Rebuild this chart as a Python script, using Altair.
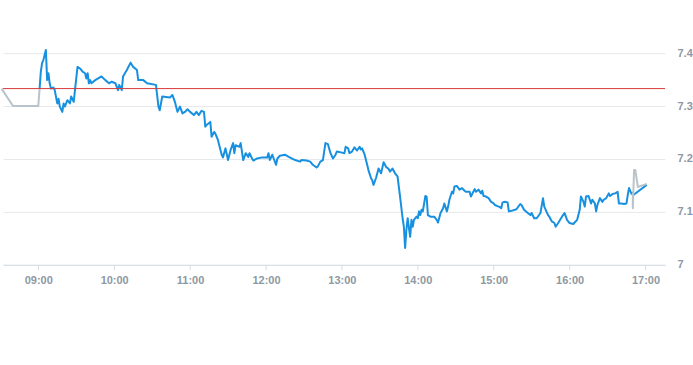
import altair as alt
import pandas as pd

# ---- data ----
prev_close = 7.333

pre_times = ["08:31", "08:40", "09:00", "09:00", "09:01"]
pre_values = [7.333, 7.300, 7.300, 7.300, 7.332]

post_times = ["16:50", "16:50", "16:51", "16:52", "16:54", "17:01"]
post_values = [7.136, 7.107, 7.179, 7.179, 7.147, 7.153]

blue_times = [
    "09:01", "09:02", "09:03", "09:04", "09:06", "09:07", "09:08", "09:09", "09:10", "09:12",
    "09:13", "09:15", "09:16", "09:17", "09:19", "09:20", "09:21", "09:23", "09:25", "09:26",
    "09:28", "09:29", "09:31", "09:33", "09:35", "09:37", "09:38", "09:39", "09:40", "09:41",
    "09:42", "09:45", "09:50", "09:53", "09:56", "09:58", "10:01", "10:03", "10:04", "10:06",
    "10:07", "10:10", "10:13", "10:15", "10:18", "10:19", "10:23", "10:26", "10:33", "10:35",
    "10:36", "10:38", "10:44", "10:46", "10:48", "10:50", "10:52", "10:54", "10:56", "10:58",
    "11:00", "11:03", "11:05", "11:07", "11:09", "11:11", "11:12", "11:13", "11:16", "11:17",
    "11:19", "11:20", "11:22", "11:25", "11:26", "11:28", "11:30", "11:32", "11:34", "11:35",
    "11:36", "11:39", "11:40", "11:42", "11:44", "11:46", "11:47", "11:49", "11:50", "11:53",
    "11:57", "12:01", "12:02", "12:03", "12:05", "12:08", "12:09", "12:11", "12:15", "12:18",
    "12:23", "12:27", "12:28", "12:32", "12:35", "12:37", "12:40", "12:41", "12:43", "12:45",
    "12:47", "12:49", "12:51", "12:53", "12:55", "12:56", "13:00", "13:02", "13:03", "13:05",
    "13:06", "13:08", "13:10", "13:12", "13:14", "13:15", "13:16", "13:18", "13:20", "13:21",
    "13:23", "13:24", "13:25", "13:27", "13:28", "13:29", "13:31", "13:33", "13:35", "13:37",
    "13:38", "13:40", "13:42", "13:44", "13:46", "13:48", "13:49", "13:50", "13:51", "13:52",
    "13:54", "13:55", "13:56", "13:57", "13:59", "14:00", "14:01", "14:02", "14:03", "14:04",
    "14:06", "14:07", "14:08", "14:10", "14:13", "14:15", "14:16", "14:18", "14:20", "14:21",
    "14:23", "14:24", "14:25", "14:27", "14:28", "14:29", "14:31", "14:33", "14:35", "14:37",
    "14:38", "14:41", "14:42", "14:45", "14:46", "14:48", "14:50", "14:51", "14:52", "14:54",
    "14:56", "14:58", "15:00", "15:01", "15:03", "15:05", "15:06", "15:07", "15:09", "15:11",
    "15:12", "15:14", "15:18", "15:21", "15:22", "15:24", "15:27", "15:29", "15:30", "15:32",
    "15:34", "15:37", "15:39", "15:40", "15:43", "15:44", "15:46", "15:48", "15:49", "15:51",
    "15:54", "15:56", "15:58", "16:00", "16:03", "16:04", "16:06", "16:08", "16:09", "16:11",
    "16:12", "16:13", "16:15", "16:17", "16:18", "16:20", "16:21", "16:22", "16:24", "16:26",
    "16:27", "16:29", "16:31", "16:32", "16:34", "16:36", "16:38", "16:39", "16:41", "16:43",
    "16:45", "16:46", "16:47", "16:49", "16:50", "16:51", "17:01",
]
blue_values = [
    7.332, 7.365, 7.381, 7.387, 7.406, 7.349, 7.362, 7.343, 7.333, 7.335,
    7.330, 7.305, 7.314, 7.299, 7.289, 7.305, 7.299, 7.311, 7.305, 7.318,
    7.308, 7.330, 7.374, 7.371, 7.365, 7.362, 7.352, 7.362, 7.343, 7.349,
    7.343, 7.349, 7.356, 7.349, 7.343, 7.346, 7.343, 7.330, 7.340, 7.330,
    7.356, 7.368, 7.382, 7.374, 7.368, 7.349, 7.349, 7.343, 7.340, 7.299,
    7.292, 7.318, 7.316, 7.321, 7.308, 7.289, 7.299, 7.286, 7.289, 7.294,
    7.289, 7.283, 7.289, 7.283, 7.291, 7.289, 7.261, 7.264, 7.270, 7.242,
    7.251, 7.248, 7.236, 7.208, 7.203, 7.220, 7.198, 7.217, 7.230, 7.211,
    7.226, 7.223, 7.230, 7.198, 7.211, 7.204, 7.211, 7.201, 7.197, 7.201,
    7.203, 7.203, 7.211, 7.198, 7.208, 7.189, 7.201, 7.206, 7.208, 7.204,
    7.198, 7.195, 7.198, 7.197, 7.195, 7.189, 7.184, 7.186, 7.195, 7.198,
    7.230, 7.228, 7.211, 7.201, 7.208, 7.214, 7.212, 7.211, 7.223, 7.220,
    7.211, 7.214, 7.222, 7.216, 7.223, 7.218, 7.220, 7.208, 7.189, 7.179,
    7.164, 7.160, 7.151, 7.164, 7.173, 7.182, 7.173, 7.194, 7.185, 7.181,
    7.176, 7.182, 7.173, 7.167, 7.129, 7.088, 7.072, 7.032, 7.066, 7.088,
    7.053, 7.085, 7.072, 7.085, 7.091, 7.088, 7.101, 7.094, 7.104, 7.101,
    7.130, 7.129, 7.094, 7.091, 7.091, 7.085, 7.080, 7.098, 7.107, 7.116,
    7.101, 7.110, 7.123, 7.138, 7.135, 7.148, 7.149, 7.142, 7.145, 7.140,
    7.138, 7.138, 7.129, 7.143, 7.138, 7.142, 7.135, 7.140, 7.130, 7.129,
    7.126, 7.119, 7.116, 7.113, 7.111, 7.109, 7.107, 7.118, 7.119, 7.118,
    7.101, 7.102, 7.105, 7.115, 7.113, 7.104, 7.098, 7.094, 7.098, 7.088,
    7.088, 7.098, 7.126, 7.110, 7.094, 7.091, 7.082, 7.079, 7.072, 7.079,
    7.091, 7.098, 7.085, 7.079, 7.077, 7.080, 7.085, 7.104, 7.129, 7.119,
    7.110, 7.129, 7.130, 7.116, 7.123, 7.116, 7.101, 7.113, 7.126, 7.119,
    7.123, 7.126, 7.135, 7.130, 7.134, 7.135, 7.138, 7.116, 7.116, 7.115,
    7.116, 7.132, 7.145, 7.134, 7.136, 7.133, 7.151,
]

hour_ticks = [9, 10, 11, 12, 13, 14, 15, 16, 17]
price_ticks = [7.0, 7.1, 7.2, 7.3, 7.4]


def to_hours(t):
    h, m = t.split(":")
    return int(h) + int(m) / 60.0


def frame(times, values, seg):
    return pd.DataFrame({
        "h": [to_hours(t) for t in times],
        "v": values,
        "seg": seg,
        "i": list(range(len(times))),
    })


gray_df = pd.concat([frame(pre_times, pre_values, "pre"), frame(post_times, post_values, "post")])
blue_df = frame(blue_times, blue_values, "main")
ref_df = pd.DataFrame({"v": [prev_close]})

LABEL_COLOR = "#8e98a2"
FONT = "Liberation Sans"

x_scale = alt.Scale(domain=[8.535, 17.258], nice=False, zero=False)
y_scale = alt.Scale(domain=[7.0, 7.5], nice=False, zero=False)

x_axis = alt.Axis(
    values=hour_ticks,
    labelExpr="(datum.value < 10 ? '0' : '') + datum.value + ':00'",
    grid=False,
    domainColor="#d6dce2",
    tickColor="#d6dce2",
    tickSize=5,
    labelPadding=5,
    labelColor=LABEL_COLOR,
    labelFont=FONT,
    labelFontSize=11,
    labelFontWeight="bold",
    title=None,
)
y_axis = alt.Axis(
    orient="right",
    values=price_ticks,
    format=".2~f",
    grid=True,
    gridColor="#e6e9ec",
    domain=False,
    ticks=False,
    labelAlign="left",
    labelPadding=12,
    labelColor=LABEL_COLOR,
    labelFont=FONT,
    labelFontSize=11,
    labelFontWeight="bold",
    title=None,
)

base_x = alt.X("h:Q", scale=x_scale, axis=x_axis)
base_y = alt.Y("v:Q", scale=y_scale, axis=y_axis)

blue = alt.Chart(blue_df).mark_line(color="#1790e0", strokeWidth=2, strokeJoin="round").encode(
    x=base_x, y=base_y, order=alt.Order("i:Q")
)
gray = alt.Chart(gray_df).mark_line(color="#b9c3cb", strokeWidth=2, strokeJoin="round").encode(
    x=alt.X("h:Q", scale=x_scale), y=alt.Y("v:Q", scale=y_scale),
    detail="seg:N", order=alt.Order("i:Q")
)
ref = alt.Chart(ref_df).mark_rule(color="#d83a3a", strokeWidth=1).encode(
    y=alt.Y("v:Q", scale=y_scale)
)

chart = alt.layer(blue, ref, gray).properties(
    width=663, height=265, padding=0, background="white"
).configure_view(stroke=None)

chart.save("out.html", embed_options={"renderer": "svg", "actions": False})
